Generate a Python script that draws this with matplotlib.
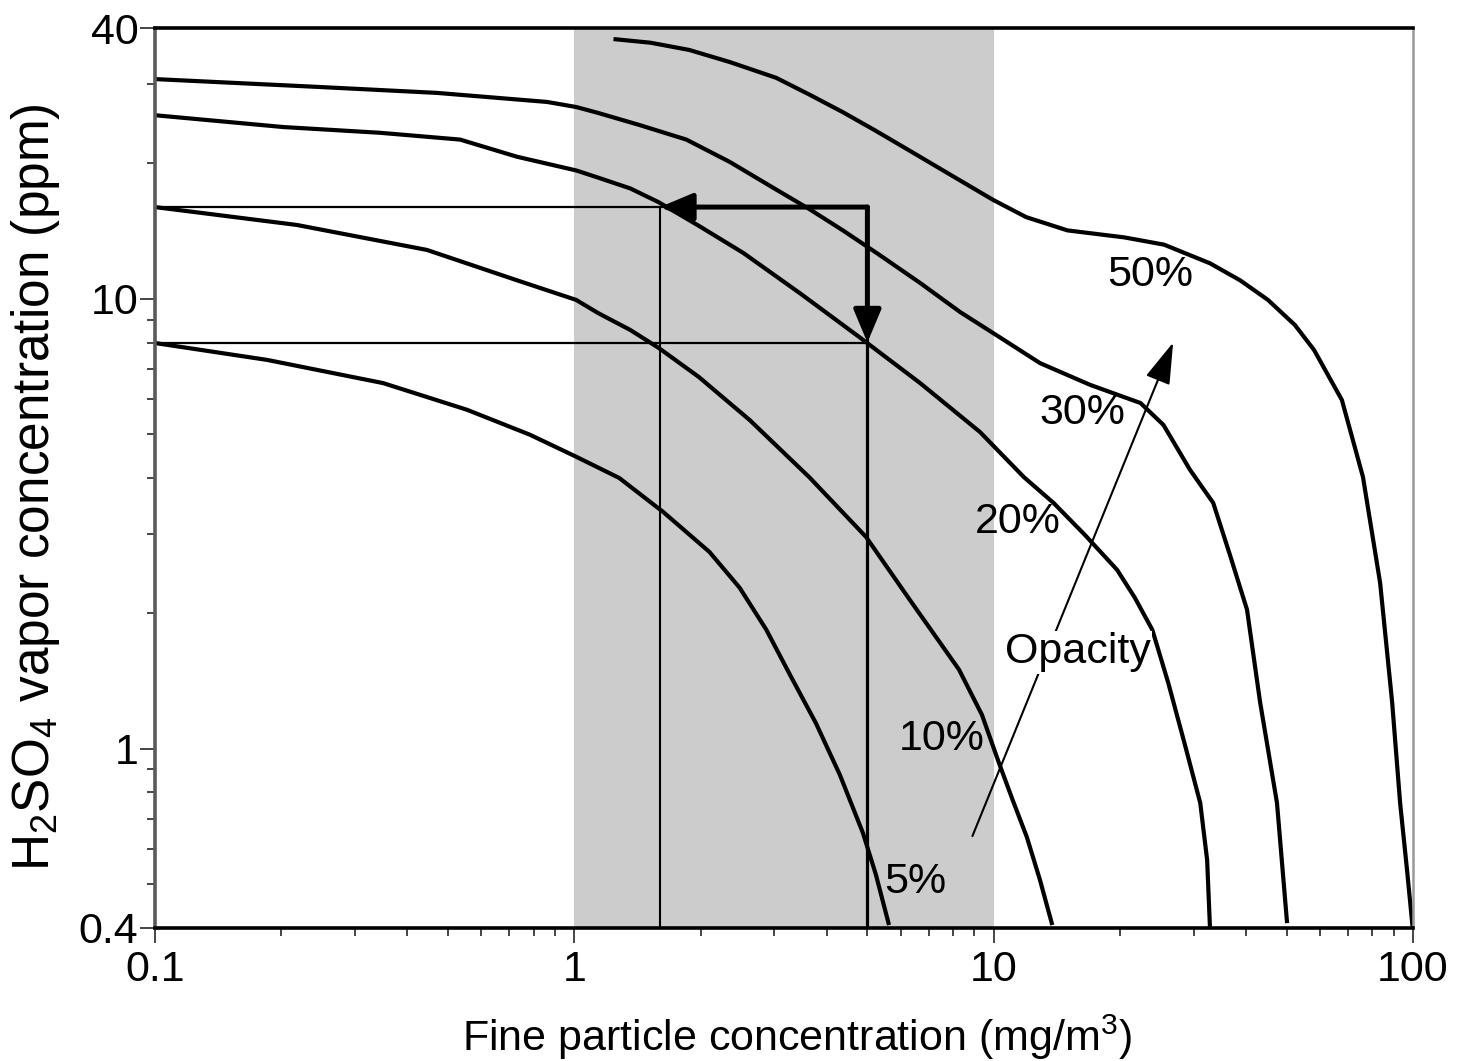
import matplotlib
matplotlib.use("Agg")
import matplotlib.pyplot as plt
from matplotlib.ticker import FixedLocator, LogLocator, NullFormatter, FixedFormatter

plt.rcParams["font.family"] = ["Liberation Sans", "DejaVu Sans"]
plt.rcParams["mathtext.fontset"] = "custom"
plt.rcParams["mathtext.rm"] = "Liberation Sans"

# --- data (x: mg/m3, y: ppm) ---
x5 = [0.1, 0.185, 0.35, 0.555, 0.784, 1.01, 1.28, 1.63, 2.1, 2.48, 2.87, 3.27, 3.77,
      4.3, 4.88, 5.24, 5.63]
y5 = [7.98, 7.32, 6.5, 5.67, 4.99, 4.46, 4.0, 3.36, 2.74, 2.28, 1.84, 1.46, 1.14,
      0.875, 0.65, 0.525, 0.406]

x10 = [0.1, 0.218, 0.445, 0.73, 1.01, 1.14, 1.36, 1.59, 1.98, 2.62, 3.63, 4.96, 6.32,
       8.27, 9.38, 10.3, 11.1, 12.0, 12.9, 13.8]
y10 = [16.0, 14.6, 12.85, 11.0, 9.95, 9.3, 8.53, 7.78, 6.71, 5.38, 4.02, 2.96, 2.14,
       1.5, 1.19, 0.93, 0.77, 0.637, 0.511, 0.406]

x20 = [0.1, 0.202, 0.344, 0.534, 0.73, 1.01, 1.14, 1.36, 1.59, 1.99, 2.53, 3.45, 4.78,
       6.68, 9.28, 11.8, 13.9, 16.5, 19.7, 21.7, 23.9, 26.1, 28.6, 31.1, 32.3, 32.8]
y20 = [25.6, 24.1, 23.4, 22.6, 20.7, 19.3, 18.6, 17.6, 16.4, 14.5, 12.65, 10.3, 8.23,
       6.5, 5.06, 4.02, 3.52, 2.99, 2.5, 2.17, 1.84, 1.4, 1.02, 0.758, 0.566, 0.402]

x30 = [0.1, 0.243, 0.47, 0.861, 1.01, 1.14, 1.43, 1.85, 2.35, 3.03, 3.65, 4.37, 5.36,
       6.68, 8.32, 10.4, 12.9, 17.0, 22.4, 25.4, 29.4, 33.4, 36.6, 40.2, 43.2, 47.4, 50.1]
y30 = [30.8, 29.6, 28.7, 27.4, 26.7, 25.9, 24.35, 22.6, 20.15, 17.5, 15.8, 14.2, 12.5,
       10.85, 9.35, 8.19, 7.2, 6.44, 5.87, 5.25, 4.17, 3.52, 2.7, 2.04, 1.27, 0.758, 0.41]

x50 = [1.24, 1.52, 1.88, 2.35, 3.03, 3.65, 4.37, 5.21, 6.28, 7.87, 9.97, 11.95, 15.0,
       20.5, 25.5, 32.8, 38.7, 45.1, 52.3, 58.1, 67.7, 76.0, 83.5, 89.2, 93.2, 96.8, 99.8]
y50 = [37.8, 37.1, 35.75, 33.6, 31.0, 28.4, 26.0, 23.7, 21.4, 18.9, 16.6, 15.2, 14.2,
       13.7, 13.2, 12.0, 11.0, 9.95, 8.75, 7.7, 5.96, 4.02, 2.34, 1.27, 0.758, 0.538, 0.402]

curves = [(x5, y5), (x10, y10), (x20, y20), (x30, y30), (x50, y50)]

labels = ["5%", "10%", "20%", "30%", "50%"]
label_x = [6.5, 7.5, 11.4, 16.3, 23.6]
label_y = [0.506, 1.05, 3.19, 5.58, 11.3]

# worked example: 16 ppm -> 1.6 mg/m3, 5 mg/m3 -> 8 ppm
ex_x = [1.6, 5.0]
ex_y = [8.0, 16.0]

band = [1, 10]
opacity_from = (8.9, 0.64)
opacity_to = (26.8, 8.0)
opacity_text = (15.9, 1.64)

fig = plt.figure(figsize=(14.58, 10.61), dpi=100)
ax = fig.add_axes([0.1063, 0.1254, 0.8628, 0.8482])
ax.set_xscale("log")
ax.set_yscale("log")
ax.set_xlim(0.1, 100)
ax.set_ylim(0.4, 40)

ax.axvspan(band[0], band[1], color="#cccccc", lw=0, zorder=0)

for xs, ys in curves:
    ax.plot(xs, ys, color="black", lw=3.0, solid_joinstyle="round",
            solid_capstyle="butt", zorder=3)

# guide lines
ax.plot([0.1, ex_x[1]], [ex_y[1], ex_y[1]], color="black", lw=1.6, zorder=2)
ax.plot([0.1, ex_x[1]], [ex_y[0], ex_y[0]], color="black", lw=1.6, zorder=2)
ax.plot([ex_x[0], ex_x[0]], [0.4, ex_y[1]], color="black", lw=1.5, zorder=2)
ax.plot([ex_x[1], ex_x[1]], [0.4, ex_y[1]], color="black", lw=2.3, zorder=2)

arrow = dict(arrowstyle="-|>,head_length=1.0,head_width=0.42", color="black",
             lw=3.6, shrinkA=0, shrinkB=0, mutation_scale=20)
ax.annotate("", xy=(ex_x[0], ex_y[1]), xytext=(ex_x[1], ex_y[1]), arrowprops=arrow, zorder=4)
ax.annotate("", xy=(ex_x[1], ex_y[0]), xytext=(ex_x[1], ex_y[1]), arrowprops=arrow, zorder=4)

ax.annotate("", xy=opacity_to, xytext=opacity_from,
            arrowprops=dict(arrowstyle="-|>,head_length=1.3,head_width=0.4", color="black",
                            lw=1.5, shrinkA=0, shrinkB=0, mutation_scale=20), zorder=4)
ax.text(*opacity_text, "Opacity", fontsize=31, ha="center", va="center", zorder=5,
        bbox=dict(facecolor="white", edgecolor="none", pad=1))

for lab, lx, ly in zip(labels, label_x, label_y):
    ax.text(lx, ly, lab, fontsize=31, ha="center", va="center", zorder=5)

# axes styling
ax.xaxis.set_major_locator(FixedLocator([0.1, 1, 10, 100]))
ax.xaxis.set_major_formatter(FixedFormatter(["0.1", "1", "10", "100"]))
ax.xaxis.set_minor_locator(LogLocator(base=10, subs=range(2, 10)))
ax.xaxis.set_minor_formatter(NullFormatter())
ax.yaxis.set_major_locator(FixedLocator([0.4, 1, 10, 40]))
ax.yaxis.set_major_formatter(FixedFormatter(["0.4", "1", "10", "40"]))
ax.yaxis.set_minor_locator(LogLocator(base=10, subs=range(2, 10)))
ax.yaxis.set_minor_formatter(NullFormatter())

ax.tick_params(which="major", direction="out", length=11, width=1.4, color="#444444",
               labelsize=31)
ax.tick_params(which="minor", direction="out", length=6, width=1.4, color="#444444")
ax.tick_params(axis="x", which="major", pad=5)
ax.tick_params(axis="y", which="major", pad=1)

ax.spines["top"].set_color("black")
ax.spines["top"].set_linewidth(2.6)
ax.spines["bottom"].set_color("black")
ax.spines["bottom"].set_linewidth(2.6)
ax.spines["left"].set_color("#5a5a5a")
ax.spines["left"].set_linewidth(2.6)
ax.spines["right"].set_color("#999999")
ax.spines["right"].set_linewidth(1.8)
for s in ax.spines.values():
    s.set_zorder(6)

ax.set_xlabel("Fine particle concentration (mg/m$^3$)", fontsize=31)
ax.set_ylabel("H$_2$SO$_4$ vapor concentration (ppm)", fontsize=37)
ax.xaxis.set_label_coords(0.51, -0.094)
ax.yaxis.set_label_coords(-0.074, 0.49)

fig.savefig("out.png", dpi=100, facecolor="white")
plt.close(fig)
